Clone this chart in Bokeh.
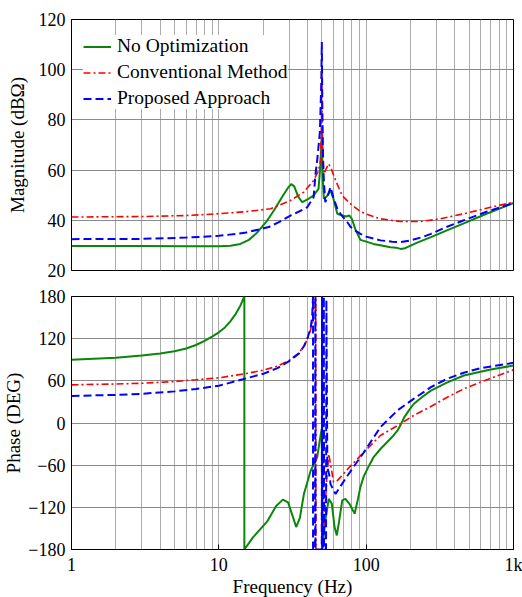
from bokeh.plotting import figure
from bokeh.layouts import column
from bokeh.models import Range1d, FixedTicker, CustomJSTickFormatter, Label
from bokeh.embed import file_html
from bokeh.resources import INLINE

# ---------------- data ----------------
series_names = ["No Optimization", "Conventional Method", "Proposed Approach"]
x_title = "Frequency (Hz)"

# Magnitude (dB-ohm)
f_mag_no = [1, 3, 6, 10, 12, 14, 16, 18, 21.3, 24, 27, 29.5, 31, 32.5, 34.5, 36.8, 40, 44, 47.5,
            49, 50, 50.6, 51.6, 54, 57.3, 60, 63.7, 68.8, 73, 77, 80, 85, 91.4, 100, 112, 130,
            146, 160, 171, 184, 220, 275, 350, 460, 650, 1000]
mag_no = [29.8, 29.8, 29.7, 29.7, 29.9, 30.6, 32.2, 34.8, 39.9, 44.5, 49.5, 53, 54.4, 53.5, 49.5,
          47.2, 48.3, 49.9, 52.5, 62.5, 75, 58, 48.6, 49.5, 51.9, 48.5, 42.6, 41.9, 41.5, 41.9,
          40.5, 36, 32.2, 31.5, 30.6, 29.9, 29.3, 29.1, 28.6, 28.9, 31.0, 33.3, 35.9, 38.8, 42.5, 46.9]

f_mag_cv = [1, 3, 6, 10, 15, 22.5, 30.6, 37.7, 44, 47.5, 49, 49.7, 50, 50.3, 51, 52, 53.5, 55.6,
            58, 62, 68.8, 78.5, 91.4, 100, 125, 171, 234, 318, 460, 700, 1000]
mag_cv = [41.3, 41.5, 41.9, 42.6, 43.4, 44.6, 47.9, 51.2, 55.9, 59.8, 64, 78, 102, 78, 62, 58.5,
          60.5, 62.5, 60.5, 55.9, 49.8, 46.5, 43.5, 42.5, 40.6, 39.5, 39.5, 40.6, 42.6, 45.2, 47.2]

f_mag_pr = [1, 3, 6, 10, 15, 21.8, 26, 30.6, 35, 39.8, 44, 45.3, 46.5, 48.5, 49.6, 50, 50.4, 51,
            51.6, 52.8, 55, 57.3, 60, 63.7, 67, 74.6, 78.5, 85, 91.4, 100, 125, 150, 171, 200,
            240, 275, 350, 460, 650, 1000]
mag_pr = [32.5, 32.6, 33.1, 33.8, 35, 37.3, 39.5, 41.9, 43.5, 45.2, 49.2, 58.5, 63.8, 75, 95, 111,
          85, 65, 55.9, 47.2, 50, 53.2, 49, 44.6, 42.6, 39.2, 37.3, 35.8, 34.6, 33.5, 32, 31.5,
          31.3, 32, 33.3, 34.6, 37.3, 40, 43.3, 46.9]

# Phase (deg)
f_ph_no = [1, 2, 3, 4, 5, 6, 7, 8, 9, 10, 11, 12, 13, 14, 14.9, 14.9, 17, 21.3, 24.5, 27.2, 29.5,
           32, 33.5, 35.5, 37.8, 42, 46.5, 49, 50, 50.4, 51.2, 52.8, 55.7, 58.5, 61, 63.2, 65.5,
           68.8, 72.3, 77, 83.5, 88, 91.4, 96.3, 105, 112, 125, 139, 150, 163, 172, 180, 195, 210,
           240, 275, 350, 460, 700, 1000]
ph_no = [90, 93, 96, 99, 102, 106, 111, 117, 123, 129, 136, 145, 155, 167, 180, -180, -163, -140,
         -118, -109, -113, -135, -148, -135, -101, -68, -49, -18, -8, -172, -165, -139, -108, -115,
         -148, -160, -140, -110, -108, -115, -129, -108, -91, -76, -60, -49, -37, -27, -20, -11,
         -2, 7, 18, 27, 37, 46, 57, 67.6, 76, 81.8]

f_ph_cv = [1, 2, 3, 5, 7, 10, 15, 20, 25, 30, 35, 38, 40, 42, 43.5, 44.5, 45.5, 45.6, 49.9, 50.1,
           50.5, 52, 54, 55.7, 57.5, 60, 63.7, 67, 78.5, 96.3, 125, 163, 210, 275, 355, 460, 595,
           1000]
ph_cv = [54.3, 55.5, 56.5, 59, 61.5, 64.3, 70, 75, 81, 89, 100, 110, 120, 133, 150, 165, 180, -180,
         -180, 180, -180, -140, -80, -44, -60, -84, -82, -77, -61, -41.6, -17.8, -3.6, 10.7, 23.5,
         36.7, 48.6, 58, 75.7]

f_ph_pr = [1, 2, 3, 5, 7, 10, 15, 20, 25, 30, 35, 38, 40, 42, 43, 43.6, 43.6, 45.0, 45.2, 45.3,
           50.0, 50.2, 50.3, 51.4, 51.6, 51.8, 53.4, 53.7, 54.5, 56.6, 57.3, 62, 66, 74.6, 85,
           96.3, 125, 163, 210, 275, 355, 460, 595, 1000]
ph_pr = [38.5, 40, 41.5, 45, 48.5, 53, 63, 70, 78, 88, 99, 110, 121, 135, 152, 180, -180, -180, 180,
         -180, -180, 180, -180, -180, 180, -180, -180, 175, -63, -77, -87, -101, -92, -75, -58,
         -42, -5.9, 17.8, 34.4, 51, 63, 71.5, 78, 85.6]

x_major = [1, 10, 100, 1000]
x_minor = [m * d for d in (1, 10, 100) for m in range(2, 10)]
mag_ticks = [20, 40, 60, 80, 100, 120]
ph_ticks = [-180, -120, -60, 0, 60, 120, 180]

# ---------------- styling ----------------
FONT = "Liberation Serif"
colors = ["#0a870a", "#ff0000", "#0000ff"]
dashes = ["solid", "7 3 2 3", "8 4"]
widths = [2, 1.6, 2]


def style(p, yticks, ylabel, label_standoff):
    p.outline_line_color = "black"
    p.outline_line_width = 1
    xt = FixedTicker(ticks=x_major, minor_ticks=x_minor)
    p.xaxis.ticker = xt
    p.xgrid.ticker = xt
    p.xgrid.grid_line_color = "#ababab"
    p.xgrid.minor_grid_line_color = "#ababab"
    p.xgrid.grid_line_width = 1
    p.xgrid.minor_grid_line_width = 1
    p.yaxis.ticker = FixedTicker(ticks=yticks)
    p.ygrid.grid_line_color = "#8a8a8a"
    p.ygrid.grid_line_width = 1
    for ax in (p.xaxis, p.yaxis):
        ax.major_label_text_font = FONT
        ax.major_label_text_font_size = "18px"
        ax.major_label_text_color = "black"
        ax.axis_label_text_font = FONT
        ax.axis_label_text_font_size = "19px"
        ax.axis_label_text_font_style = "normal"
        ax.axis_label_text_color = "black"
        ax.minor_tick_line_color = None
        ax.major_tick_out = 0
        ax.axis_line_color = "black"
    p.xaxis.major_tick_in = 5
    p.yaxis.major_tick_in = 0
    p.yaxis.major_label_standoff = 6
    p.yaxis.axis_label = ylabel
    p.yaxis.axis_label_standoff = label_standoff


# ---------------- magnitude plot ----------------
p1 = figure(width=522, height=280, x_axis_type="log", x_range=Range1d(1, 1000),
            y_range=Range1d(20, 120), output_backend="svg", toolbar_location=None,
            min_border_left=71, min_border_right=9, min_border_top=19, min_border_bottom=10)
style(p1, mag_ticks, "Magnitude (dBΩ)", 8)
p1.xaxis.visible = False

mag_sets = [(f_mag_no, mag_no), (f_mag_cv, mag_cv), (f_mag_pr, mag_pr)]
for (fx, fy), name, c, d, w in zip(mag_sets, series_names, colors, dashes, widths):
    p1.line(fx, fy, line_color=c, line_dash=d, line_width=w, legend_label=name)

lg = p1.legend[0]
lg.location = (12, 161)
lg.margin = 0
lg.padding = 6
lg.spacing = 4
lg.glyph_width = 28
lg.glyph_height = 21
lg.label_height = 21
lg.label_standoff = 6
lg.label_text_font = FONT
lg.label_text_font_size = "19.5px"
lg.label_text_color = "black"
lg.border_line_color = None
lg.background_fill_color = "white"
lg.background_fill_alpha = 1.0

# ---------------- phase plot ----------------
p2 = figure(width=522, height=297, x_axis_type="log", x_range=Range1d(1, 1000),
            y_range=Range1d(-180, 180), output_backend="svg", toolbar_location=None,
            min_border_left=71, min_border_right=9, min_border_top=16, min_border_bottom=28)
style(p2, ph_ticks, "Phase (DEG)", 1)
p2.xaxis.major_label_standoff = 1
p2.xaxis.formatter = CustomJSTickFormatter(
    code="return tick >= 1000 ? (tick / 1000) + 'k' : tick.toString();")

ph_sets = [(f_ph_no, ph_no), (f_ph_cv, ph_cv), (f_ph_pr, ph_pr)]
for (fx, fy), c, d, w in zip(ph_sets, colors, dashes, widths):
    p2.line(fx, fy, line_color=c, line_dash=d, line_width=w)

# ---------------- x-axis title strip ----------------
p3 = figure(width=522, height=20, x_range=Range1d(0, 1), y_range=Range1d(0, 1),
            output_backend="svg", toolbar_location=None, x_axis_location=None,
            y_axis_location=None, min_border_left=71, min_border_right=9,
            min_border_top=0, min_border_bottom=0)
p3.outline_line_color = None
p3.grid.visible = False
p3.add_layout(Label(x=221, y=11, x_units="screen", y_units="screen", text=x_title,
                    text_font=FONT, text_font_size="19px", text_color="black",
                    text_align="center", text_baseline="middle"))

layout = column(p1, p2, p3, spacing=0)
open("out.html", "w").write(file_html(layout, INLINE))
